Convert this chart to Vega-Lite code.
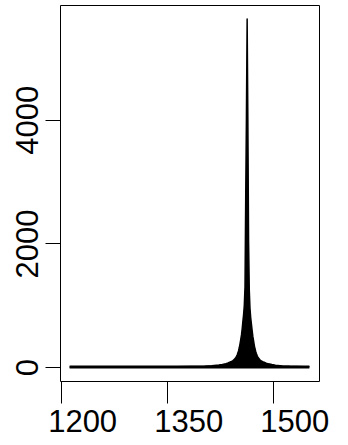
{
  "$schema": "https://vega.github.io/schema/vega-lite/v6.json",
  "autosize": {"type": "none"},
  "width": 259,
  "height": 376,
  "padding": {"left": 60, "top": 5, "right": 29, "bottom": 64},
  "background": "white",
  "config": {
    "view": {"stroke": "black", "strokeWidth": 1, "fill": "white"},
    "axis": {"grid": false, "domain": false, "tickColor": "black", "tickWidth": 1, "labelColor": "black", "labelFont": "Liberation Sans", "labelFontSize": 31, "title": null}
  },
  "data": {
    "values": [
      {"x": 1212, "y": 0}, {"x": 1260, "y": 0}, {"x": 1300, "y": 1}, {"x": 1333, "y": 2},
      {"x": 1363, "y": 5}, {"x": 1383, "y": 8}, {"x": 1403, "y": 14}, {"x": 1413, "y": 20},
      {"x": 1423, "y": 32}, {"x": 1428, "y": 42}, {"x": 1433, "y": 56}, {"x": 1436, "y": 68},
      {"x": 1439, "y": 82}, {"x": 1441, "y": 92}, {"x": 1443, "y": 105}, {"x": 1445, "y": 125},
      {"x": 1447, "y": 155}, {"x": 1448, "y": 175}, {"x": 1449, "y": 200}, {"x": 1450, "y": 230},
      {"x": 1451, "y": 270}, {"x": 1452, "y": 320}, {"x": 1453, "y": 380}, {"x": 1454, "y": 450},
      {"x": 1455, "y": 520}, {"x": 1456, "y": 620}, {"x": 1457, "y": 740}, {"x": 1458, "y": 850},
      {"x": 1459, "y": 1000}, {"x": 1460, "y": 1300}, {"x": 1461, "y": 2750}, {"x": 1462, "y": 4050},
      {"x": 1463, "y": 5630}, {"x": 1464, "y": 4000}, {"x": 1465, "y": 2050}, {"x": 1466, "y": 1250},
      {"x": 1467, "y": 950}, {"x": 1468, "y": 800}, {"x": 1469, "y": 700}, {"x": 1470, "y": 600},
      {"x": 1471, "y": 500}, {"x": 1472, "y": 430}, {"x": 1473, "y": 360}, {"x": 1474, "y": 300},
      {"x": 1475, "y": 255}, {"x": 1476, "y": 220}, {"x": 1477, "y": 190}, {"x": 1478, "y": 165},
      {"x": 1479, "y": 145}, {"x": 1481, "y": 118}, {"x": 1483, "y": 98}, {"x": 1485, "y": 86},
      {"x": 1487, "y": 78}, {"x": 1490, "y": 64}, {"x": 1493, "y": 52}, {"x": 1498, "y": 40},
      {"x": 1503, "y": 30}, {"x": 1513, "y": 19}, {"x": 1523, "y": 13}, {"x": 1543, "y": 7},
      {"x": 1551, "y": 4}
    ]
  },
  "layer": [
    {
      "mark": {"type": "area", "color": "black", "interpolate": "linear"},
      "encoding": {
        "x": {
          "field": "x", "type": "quantitative",
          "scale": {"domain": [1198.4, 1564.6], "nice": false, "zero": false},
          "axis": {"values": [1200, 1350, 1500], "format": "d", "tickSize": 22, "labelOffset": 21, "labelPadding": 4, "labelFlush": false, "labelOverlap": false}
        },
        "y": {
          "field": "y", "type": "quantitative",
          "scale": {"domain": [-225.2, 5855.2], "nice": false, "zero": false},
          "axis": {"values": [0, 2000, 4000], "format": "d", "tickSize": 15, "labelAngle": 270, "labelAlign": "center", "labelBaseline": "bottom", "labelPadding": 1, "labelFlush": false, "labelOverlap": false}
        },
        "y2": {"datum": 0}
      }
    },
    {
      "mark": {"type": "line", "color": "black", "strokeWidth": 1.5, "strokeJoin": "round"},
      "encoding": {
        "x": {"field": "x", "type": "quantitative"},
        "y": {"field": "y", "type": "quantitative"}
      }
    },
    {
      "mark": {"type": "rule", "color": "black", "strokeWidth": 3},
      "encoding": {
        "x": {"aggregate": "min", "field": "x", "type": "quantitative"},
        "x2": {"aggregate": "max", "field": "x"},
        "y": {"datum": 0}
      }
    }
  ]
}
